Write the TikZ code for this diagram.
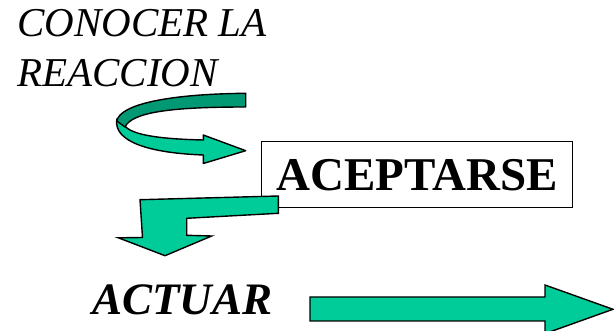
\documentclass[tikz,border=0pt]{standalone}
\usepackage{fontspec}
\setmainfont{Liberation Serif}
\definecolor{arrowfill}{RGB}{0,204,153}
\definecolor{arrowshade}{RGB}{0,153,115}
\begin{document}
\begin{tikzpicture}[x=1pt,y=-1pt,
  arrowshape/.style={fill=arrowfill,draw=black,line width=1.4pt,line join=miter},
  backshape/.style={fill=arrowshade,draw=black,line width=1.4pt,line join=round},
  steplabel/.style={inner sep=0pt,anchor=base west}]
\useasboundingbox (0,0) rectangle (614,331);
\clip (0,0) rectangle (614,331);

% labels
\node[steplabel] (conocer) at (17,37) {\fontsize{41}{50}\selectfont\itshape CONOCER LA};
\node[steplabel] (reaccion) at (17,87) {\fontsize{41}{50}\selectfont\itshape REACCION};
\node[draw=black,line width=1.2pt,minimum width=311pt,minimum height=66pt,inner sep=0pt]
  (aceptarse) at (417.3,174.8) {\fontsize{47}{50}\selectfont\bfseries ACEPTARSE};
\node[steplabel] (actuar) at (92,315) {\fontsize{45}{50}\selectfont\bfseries\itshape ACTUAR};

% curled arrow: front (light) face
\draw[arrowshape,line join=round]
  (116.8,119) .. controls (113,142) and (150,153) .. (203.3,155)
  -- (203.3,163.5) -- (245.7,150.7) -- (203.3,135) -- (203.3,140)
  .. controls (160,139) and (132,135) .. (125,126) -- cycle;
% curled arrow: back (dark) face
\draw[backshape]
  (245.7,93.3) .. controls (170,94) and (120,104) .. (116.8,121)
  -- (125,127)
  .. controls (132,112) and (172,107) .. (245.7,107) -- cycle;

% bent arrow pointing down
\draw[arrowshape]
  (140,199.7) -- (278.3,196) -- (278.3,213.3) -- (186.7,218.3)
  -- (186.7,235.3) -- (211.7,236) -- (165,255.7) -- (118.3,237.8)
  -- (142.5,237.5) -- cycle;

% long arrow pointing right
\draw[arrowshape]
  (310,297) -- (545,297) -- (545,285) -- (613,309.3) -- (545,333.6)
  -- (545,321) -- (310,321) -- cycle;
\end{tikzpicture}
\end{document}
